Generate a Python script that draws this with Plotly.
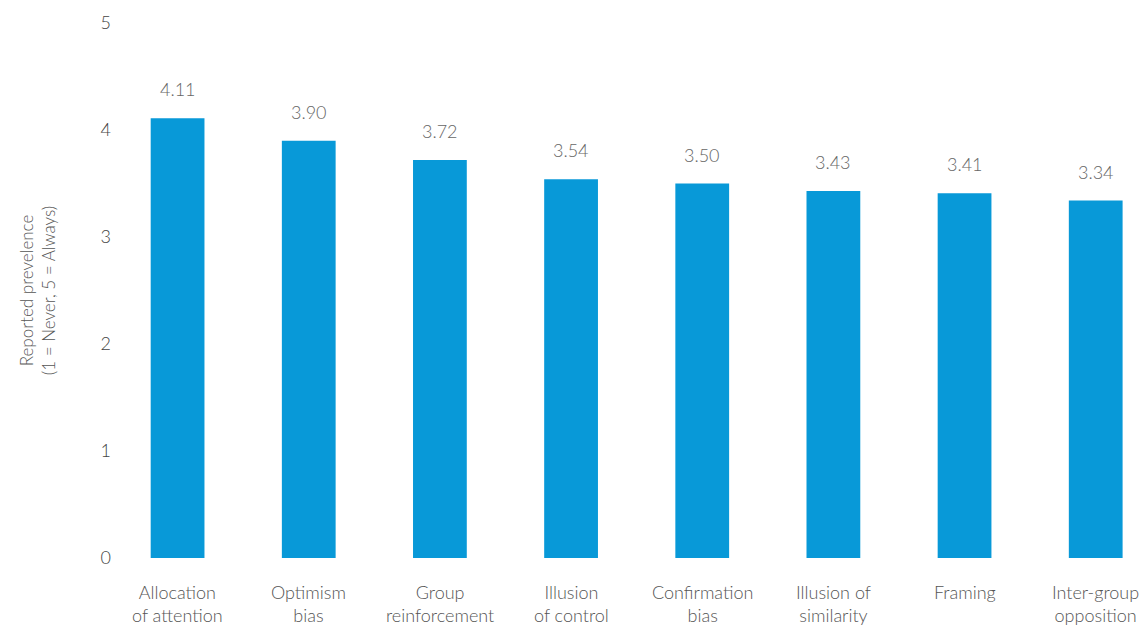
import plotly.graph_objects as go

categories = ["Allocation<br>of attention", "Optimism<br>bias", "Group<br>reinforcement",
              "Illusion<br>of control", "Confirmation<br>bias", "Illusion of<br>similarity",
              "Framing", "Inter-group<br>opposition"]
values = [4.11, 3.90, 3.72, 3.54, 3.50, 3.43, 3.41, 3.34]
labels = ["4.11", "3.90", "3.72", "3.54", "3.50", "3.43", "3.41", "3.34"]
y_ticks = [0, 1, 2, 3, 4, 5]

FONT = "Lato Light, Lato, Open Sans, sans-serif"
x = list(range(len(categories)))

fig = go.Figure()
fig.add_trace(go.Bar(x=x, y=values, width=0.41, marker_color="#0899d8",
                     marker_line_width=0, hoverinfo="skip"))

for xi, v, t in zip(x, values, labels):
    fig.add_annotation(x=xi, y=v, text=t, showarrow=False, yshift=29,
                       font=dict(family=FONT, size=18, color="#666666"))

for xi, c in zip(x, categories):
    fig.add_annotation(x=xi, y=0, text=c, showarrow=False, yanchor="top", yshift=-21,
                       font=dict(family=FONT, size=18, color="#555555"))

fig.update_layout(
    width=1139, height=625,
    margin=dict(l=112, r=0, t=23, b=67, autoexpand=False),
    paper_bgcolor="white", plot_bgcolor="white",
    showlegend=False,
    font=dict(family=FONT, size=18, color="#555555"),
    xaxis=dict(range=[-0.5, 7.33], showticklabels=False,
               showgrid=False, zeroline=False, showline=False, ticks="",
               automargin=False),
    yaxis=dict(range=[0, 5], tickvals=y_ticks, showgrid=False, zeroline=False,
               showline=False, ticks="", ticklen=0, automargin=False,
               tickfont=dict(family=FONT, size=18, color="#444444"),
               title=dict(text="Reported prevelence<br>(1 = Never, 5 = Always)",
                          font=dict(family=FONT, size=17, color="#555555"),
                          standoff=40)),
)

fig.write_html("out.html", config={"displayModeBar": False},
               post_script="document.body.style.margin='0';")
